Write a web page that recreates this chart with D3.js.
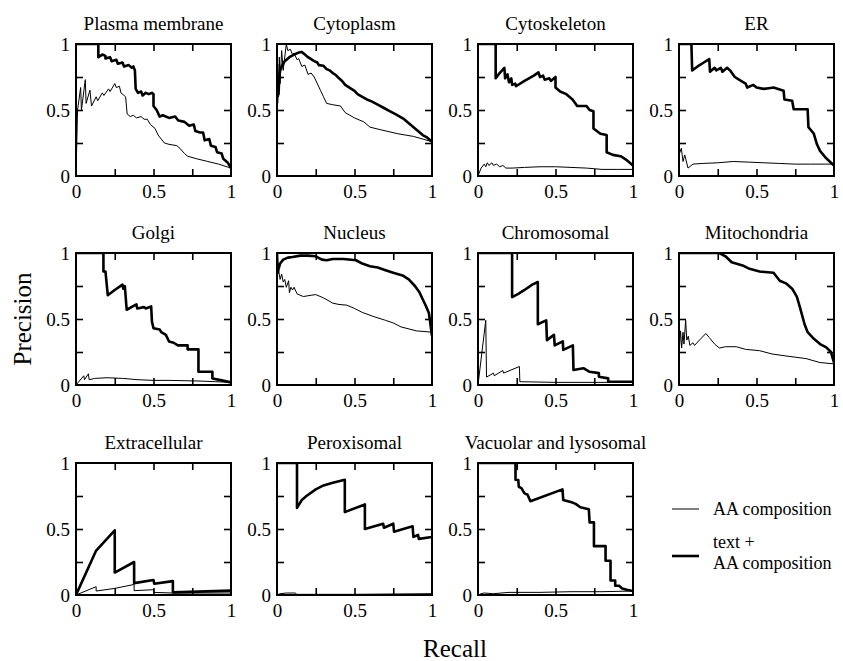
<!DOCTYPE html>
<html>
<head>
<meta charset="utf-8">
<script src="https://cdn.jsdelivr.net/npm/d3@7"></script>
<style>
  body { margin: 0; background: #fff; }
  svg { font-family: "Liberation Serif", "Times New Roman", serif; }
</style>
</head>
<body>
<svg width="843" height="661"></svg>
<script>
// precision-recall curves, [recall, precision] pairs
const plasmaAA = [[0,0],[0.01,0.5],[0.03,0.67],[0.035,0.5],[0.06,0.73],[0.065,0.55],[0.09,0.65],[0.10,0.53],[0.13,0.60],[0.14,0.57],[0.17,0.63],[0.18,0.61],[0.21,0.66],[0.22,0.64],[0.25,0.70],[0.26,0.67],[0.28,0.68],[0.29,0.63],[0.32,0.60],[0.33,0.47],[0.35,0.45],[0.37,0.46],[0.39,0.44],[0.42,0.45],[0.44,0.43],[0.46,0.43],[0.48,0.39],[0.51,0.36],[0.53,0.31],[0.57,0.25],[0.60,0.24],[0.65,0.23],[0.67,0.21],[0.70,0.17],[0.72,0.15],[0.78,0.13],[0.85,0.11],[0.92,0.09],[1,0.06]];
const plasmaText = [[0,1],[0.144,1],[0.144,0.90],[0.17,0.92],[0.19,0.91],[0.19,0.89],[0.22,0.90],[0.23,0.87],[0.26,0.88],[0.27,0.85],[0.30,0.86],[0.31,0.83],[0.34,0.84],[0.36,0.82],[0.37,0.83],[0.38,0.80],[0.385,0.66],[0.40,0.63],[0.42,0.64],[0.43,0.61],[0.45,0.63],[0.47,0.62],[0.49,0.63],[0.50,0.62],[0.50,0.53],[0.52,0.50],[0.54,0.45],[0.56,0.46],[0.60,0.44],[0.64,0.45],[0.66,0.42],[0.70,0.41],[0.73,0.38],[0.76,0.39],[0.77,0.34],[0.80,0.33],[0.82,0.33],[0.83,0.27],[0.86,0.28],[0.87,0.23],[0.90,0.22],[0.91,0.18],[0.94,0.17],[0.95,0.13],[0.98,0.10],[1,0.06]];

const cytoAA = [[0,0.5],[0.005,0.85],[0.01,0.6],[0.015,0.9],[0.02,0.7],[0.03,0.95],[0.04,0.8],[0.06,1],[0.07,0.95],[0.086,0.96],[0.10,0.92],[0.11,0.93],[0.13,0.88],[0.14,0.89],[0.16,0.83],[0.18,0.84],[0.20,0.77],[0.22,0.78],[0.24,0.75],[0.28,0.65],[0.30,0.60],[0.32,0.55],[0.36,0.54],[0.41,0.53],[0.44,0.48],[0.50,0.44],[0.56,0.41],[0.60,0.37],[0.67,0.35],[0.78,0.32],[0.88,0.30],[1,0.26]];
const cytoText = [[0,0.55],[0.005,0.7],[0.01,0.62],[0.015,0.76],[0.02,0.8],[0.03,0.83],[0.05,0.87],[0.08,0.9],[0.11,0.92],[0.14,0.935],[0.16,0.94],[0.18,0.92],[0.20,0.90],[0.24,0.87],[0.26,0.86],[0.27,0.84],[0.30,0.835],[0.32,0.81],[0.34,0.80],[0.36,0.78],[0.38,0.765],[0.40,0.74],[0.42,0.72],[0.44,0.69],[0.46,0.675],[0.48,0.66],[0.50,0.645],[0.52,0.62],[0.55,0.60],[0.58,0.58],[0.61,0.565],[0.65,0.54],[0.69,0.515],[0.73,0.49],[0.77,0.465],[0.82,0.43],[0.86,0.39],[0.90,0.35],[0.94,0.31],[0.97,0.29],[1,0.26]];

const cskAA = [[0,0],[0.02,0.06],[0.04,0.09],[0.05,0.07],[0.06,0.1],[0.07,0.08],[0.09,0.1],[0.1,0.08],[0.12,0.09],[0.14,0.07],[0.16,0.08],[0.18,0.06],[0.22,0.06],[0.3,0.065],[0.4,0.07],[0.5,0.07],[0.6,0.065],[0.7,0.06],[0.8,0.05],[0.9,0.05],[1,0.05]];
const cskText = [[0,1],[0.114,1],[0.114,0.74],[0.14,0.78],[0.17,0.82],[0.175,0.74],[0.19,0.77],[0.20,0.71],[0.215,0.74],[0.22,0.69],[0.24,0.70],[0.245,0.68],[0.30,0.72],[0.36,0.76],[0.39,0.785],[0.40,0.75],[0.42,0.76],[0.43,0.73],[0.46,0.74],[0.47,0.72],[0.5,0.75],[0.5,0.67],[0.53,0.64],[0.57,0.62],[0.61,0.58],[0.64,0.53],[0.70,0.53],[0.72,0.50],[0.745,0.49],[0.745,0.36],[0.79,0.32],[0.83,0.31],[0.83,0.18],[0.87,0.16],[0.92,0.15],[0.96,0.12],[1,0.08]];

const erAA = [[0,0.16],[0.015,0.21],[0.026,0.11],[0.037,0.16],[0.058,0.06],[0.09,0.09],[0.15,0.095],[0.25,0.1],[0.35,0.11],[0.45,0.105],[0.55,0.1],[0.65,0.095],[0.75,0.09],[0.85,0.09],[1,0.09]];
const erText = [[0,1],[0.08,1],[0.085,0.8],[0.12,0.83],[0.16,0.86],[0.195,0.886],[0.2,0.79],[0.23,0.82],[0.24,0.80],[0.27,0.82],[0.28,0.79],[0.31,0.82],[0.33,0.80],[0.36,0.75],[0.40,0.72],[0.43,0.70],[0.44,0.67],[0.48,0.69],[0.5,0.67],[0.545,0.66],[0.58,0.665],[0.61,0.67],[0.675,0.645],[0.68,0.58],[0.73,0.57],[0.74,0.506],[0.83,0.506],[0.835,0.37],[0.87,0.32],[0.89,0.24],[0.91,0.19],[0.945,0.14],[1,0.08]];

const golgiAA = [[0,0],[0.05,0.07],[0.055,0.04],[0.08,0.085],[0.085,0.04],[0.12,0.05],[0.2,0.055],[0.3,0.05],[0.4,0.04],[0.5,0.035],[0.6,0.035],[0.8,0.03],[0.9,0.025],[1,0.02]];
const golgiText = [[0,1],[0.177,1],[0.177,0.86],[0.19,0.86],[0.205,0.68],[0.25,0.72],[0.30,0.76],[0.305,0.73],[0.315,0.75],[0.327,0.57],[0.39,0.61],[0.395,0.58],[0.44,0.59],[0.45,0.58],[0.485,0.595],[0.49,0.48],[0.5,0.43],[0.54,0.42],[0.55,0.40],[0.58,0.38],[0.60,0.33],[0.63,0.32],[0.657,0.30],[0.72,0.30],[0.72,0.27],[0.79,0.27],[0.79,0.10],[0.88,0.10],[0.88,0.05],[0.94,0.035],[1,0.02]];

const nucAA = [[0.01,0.87],[0.02,0.8],[0.03,0.84],[0.04,0.78],[0.05,0.8],[0.06,0.74],[0.075,0.79],[0.08,0.7],[0.09,0.74],[0.1,0.72],[0.11,0.74],[0.13,0.69],[0.17,0.67],[0.22,0.68],[0.25,0.685],[0.3,0.66],[0.36,0.62],[0.4,0.61],[0.45,0.605],[0.5,0.58],[0.55,0.55],[0.62,0.52],[0.7,0.49],[0.75,0.47],[0.8,0.44],[0.9,0.41],[1,0.40]];
const nucText = [[0,1],[0.005,0.85],[0.01,0.88],[0.02,0.92],[0.04,0.95],[0.07,0.965],[0.1,0.97],[0.15,0.98],[0.2,0.98],[0.25,0.975],[0.29,0.95],[0.32,0.945],[0.36,0.955],[0.43,0.955],[0.51,0.945],[0.55,0.92],[0.6,0.90],[0.65,0.89],[0.7,0.87],[0.75,0.85],[0.81,0.83],[0.85,0.80],[0.89,0.75],[0.92,0.70],[0.94,0.65],[0.96,0.60],[0.98,0.545],[0.99,0.46],[1,0.37]];

const chromAA = [[0,0],[0.05,0.49],[0.055,0.06],[0.1,0.09],[0.105,0.07],[0.16,0.11],[0.165,0.09],[0.267,0.14],[0.27,0.025],[0.5,0.02],[1,0.02]];
const chromText = [[0,1],[0.22,1],[0.22,0.666],[0.26,0.69],[0.30,0.72],[0.35,0.76],[0.386,0.78],[0.386,0.46],[0.44,0.49],[0.445,0.34],[0.49,0.38],[0.495,0.30],[0.547,0.33],[0.55,0.266],[0.612,0.30],[0.616,0.114],[0.68,0.127],[0.72,0.10],[0.78,0.09],[0.78,0.063],[0.84,0.05],[0.84,0.025],[1,0.025]];

const mitoAA = [[0,0.235],[0.01,0.41],[0.017,0.28],[0.026,0.4],[0.032,0.31],[0.043,0.49],[0.05,0.34],[0.06,0.37],[0.07,0.30],[0.09,0.32],[0.1,0.3],[0.14,0.35],[0.173,0.39],[0.195,0.36],[0.23,0.31],[0.26,0.28],[0.3,0.29],[0.37,0.29],[0.43,0.27],[0.52,0.26],[0.6,0.235],[0.69,0.22],[0.82,0.2],[0.91,0.17],[1,0.16]];
const mitoText = [[0,1],[0.26,1],[0.30,0.975],[0.34,0.93],[0.41,0.906],[0.455,0.88],[0.52,0.86],[0.61,0.85],[0.63,0.82],[0.65,0.79],[0.69,0.77],[0.73,0.73],[0.76,0.67],[0.78,0.59],[0.81,0.46],[0.83,0.40],[0.87,0.35],[0.91,0.31],[0.95,0.285],[0.98,0.25],[1,0.17]];

const extraAA = [[0,0],[0.13,0.063],[0.13,0.03],[0.25,0.05],[0.375,0.08],[0.375,0.033],[0.5,0.04],[0.5,0.02],[0.625,0.015],[1,0.015]];
const extraText = [[0,0],[0.13,0.337],[0.25,0.49],[0.25,0.17],[0.375,0.25],[0.375,0.09],[0.5,0.114],[0.505,0.085],[0.625,0.105],[0.625,0.02],[1,0.033]];

const peroxAA = [[0,0],[0.02,0.01],[0.06,0.015],[0.12,0.015],[0.125,0.005],[0.5,0.005],[0.8,0.008],[1,0.01]];
const peroxText = [[0,1],[0.129,1],[0.129,0.66],[0.16,0.72],[0.19,0.75],[0.25,0.80],[0.30,0.83],[0.36,0.85],[0.4375,0.873],[0.4375,0.628],[0.567,0.686],[0.567,0.50],[0.685,0.54],[0.69,0.51],[0.75,0.54],[0.755,0.48],[0.875,0.52],[0.88,0.44],[0.91,0.455],[0.915,0.425],[1,0.44]];

const vacAA = [[0,0],[0.02,0.01],[0.04,0.015],[0.1,0.01],[0.2,0.02],[0.4,0.02],[0.6,0.025],[0.8,0.025],[1,0.03]];
const vacText = [[0,1],[0.242,1],[0.242,0.873],[0.26,0.87],[0.263,0.82],[0.28,0.81],[0.30,0.77],[0.32,0.76],[0.338,0.71],[0.545,0.80],[0.55,0.72],[0.61,0.70],[0.63,0.69],[0.66,0.665],[0.715,0.65],[0.72,0.55],[0.748,0.55],[0.748,0.37],[0.823,0.37],[0.823,0.26],[0.855,0.26],[0.855,0.11],[0.885,0.11],[0.885,0.07],[0.91,0.07],[0.93,0.05],[0.96,0.04],[1,0.03]];

const titles = ['Plasma membrane', 'Cytoplasm', 'Cytoskeleton', 'ER',
  'Golgi', 'Nucleus', 'Chromosomal', 'Mitochondria',
  'Extracellular', 'Peroxisomal', 'Vacuolar and lysosomal'];
const thinSeries = [plasmaAA, cytoAA, cskAA, erAA, golgiAA, nucAA, chromAA, mitoAA, extraAA, peroxAA, vacAA];
const thickSeries = [plasmaText, cytoText, cskText, erText, golgiText, nucText, chromText, mitoText, extraText, peroxText, vacText];
const labelTicks = [0, 0.5, 1];
const innerTicks = [0.25, 0.5, 0.75];
const legendLabels = [['AA composition'], ['text +', 'AA composition']];

// layout
const colX = [76, 277, 478, 679];
const rowY = [44, 253, 463];
const boxW = 155, boxH = 132;
const fontSize = 19;

const svg = d3.select('svg');
const x = d3.scaleLinear().domain([0, 1]).range([0, boxW]);
const y = d3.scaleLinear().domain([0, 1]).range([boxH, 0]);
const line = d3.line().x(d => x(d[0])).y(d => y(d[1]));
const fmt = d => String(d);

svg.append('defs').append('clipPath').attr('id', 'box')
  .append('rect').attr('width', boxW).attr('height', boxH);

titles.forEach((title, i) => {
  const g = svg.append('g')
    .attr('transform', 'translate(' + colX[i % 4] + ',' + rowY[Math.floor(i / 4)] + ')');

  // curves
  const plot = g.append('g').attr('clip-path', 'url(#box)');
  plot.append('path').datum(thinSeries[i])
    .attr('d', line).attr('fill', 'none').attr('stroke', '#000')
    .attr('stroke-width', 1).attr('stroke-linejoin', 'round');
  plot.append('path').datum(thickSeries[i])
    .attr('d', line).attr('fill', 'none').attr('stroke', '#000')
    .attr('stroke-width', 2.6).attr('stroke-linejoin', 'round');

  // inward ticks on all four sides
  const tickSides = [
    [d3.axisBottom(x), 0, boxH],
    [d3.axisTop(x), 0, 0],
    [d3.axisLeft(y), 0, 0],
    [d3.axisRight(y), boxW, 0]
  ];
  tickSides.forEach(([axis, tx, ty]) => {
    const a = g.append('g').attr('transform', 'translate(' + tx + ',' + ty + ')')
      .call(axis.tickValues(innerTicks).tickSize(-7).tickFormat(''));
    a.select('.domain').remove();
    a.selectAll('line').attr('stroke', '#000').attr('stroke-width', 1.6);
  });

  // tick labels
  const xa = g.append('g').attr('transform', 'translate(0,' + boxH + ')')
    .call(d3.axisBottom(x).tickValues(labelTicks).tickSize(0).tickPadding(9).tickFormat(fmt));
  const ya = g.append('g')
    .call(d3.axisLeft(y).tickValues(labelTicks).tickSize(0).tickPadding(6).tickFormat(fmt));
  [xa, ya].forEach(a => {
    a.attr('font-family', null).attr('font-size', fontSize);
    a.select('.domain').remove();
    a.selectAll('text').attr('fill', '#000');
  });

  g.append('rect').attr('width', boxW).attr('height', boxH)
    .attr('fill', 'none').attr('stroke', '#000').attr('stroke-width', 2);

  g.append('text').attr('x', boxW / 2).attr('y', -14)
    .attr('text-anchor', 'middle').attr('font-size', fontSize).text(title);
});

// axis titles
svg.append('text').attr('x', 455).attr('y', 657)
  .attr('text-anchor', 'middle').attr('font-size', 25).text('Recall');
svg.append('text').attr('transform', 'translate(31,319) rotate(-90)')
  .attr('text-anchor', 'middle').attr('font-size', 25).text('Precision');

// legend
const legend = svg.append('g').attr('transform', 'translate(672,509)');
legendLabels.forEach((lines, i) => {
  const row = legend.append('g').attr('transform', 'translate(0,' + (i * 47) + ')');
  row.append('line').attr('x1', 0).attr('x2', 27)
    .attr('stroke', '#000').attr('stroke-width', i === 0 ? 1 : 2.6);
  lines.forEach((s, k) => {
    row.append('text').attr('x', 41).attr('font-size', 18)
      .attr('y', lines.length === 1 ? 6 : -8 + k * 21).text(s);
  });
});
</script>
</body>
</html>
